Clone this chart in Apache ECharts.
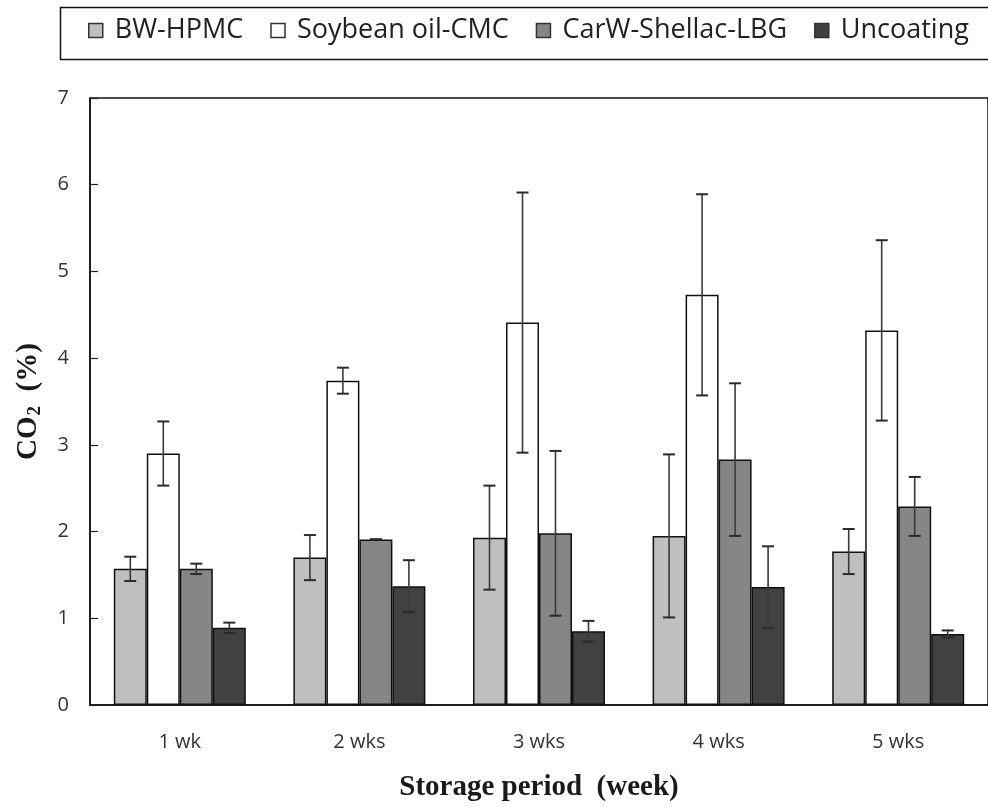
<!DOCTYPE html>
<html>
<head>
<meta charset="utf-8">
<script src="https://cdn.jsdelivr.net/npm/echarts@6/dist/echarts.min.js"></script>
<style>
  html, body { margin: 0; padding: 0; background: #ffffff; }
  #chart { width: 988px; height: 807px; }
</style>
</head>
<body>
<div id="chart"></div>
<script>
// Storage weeks on the category axis
const weeks = ['1 wk', '2 wks', '3 wks', '4 wks', '5 wks'];
const seriesNames = ['BW-HPMC', 'Soybean oil-CMC', 'CarW-Shellac-LBG', 'Uncoating'];
const yTicks = [0, 1, 2, 3, 4, 5, 6, 7];

// Mean CO2 (%) per coating and its standard deviation
const bwHpmc = [1.57, 1.70, 1.93, 1.95, 1.77];
const bwHpmcSd = [0.14, 0.26, 0.60, 0.94, 0.26];
const soybeanCmc = [2.90, 3.74, 4.41, 4.73, 4.32];
const soybeanCmcSd = [0.37, 0.15, 1.50, 1.16, 1.04];
const carwShellac = [1.57, 1.91, 1.98, 2.83, 2.29];
const carwShellacSd = [0.06, 0.00, 0.95, 0.88, 0.34];
const uncoating = [0.89, 1.37, 0.85, 1.36, 0.82];
const uncoatingSd = [0.06, 0.30, 0.12, 0.47, 0.04];

const means = [bwHpmc, soybeanCmc, carwShellac, uncoating];
const sds = [bwHpmcSd, soybeanCmcSd, carwShellacSd, uncoatingSd];
const fills = ['#bfbfbf', '#ffffff', '#868686', '#414141'];

const BAR_W = 33;
const CAP_HALF = 6;

const barSeries = means.map((vals, i) => ({
  name: seriesNames[i],
  type: 'bar',
  data: vals,
  barWidth: BAR_W,
  barGap: '0%',
  itemStyle: { color: fills[i], borderColor: '#111', borderWidth: 1.5 }
}));

// Whiskers drawn at the centre of each bar of the group
const errorSeries = means.map((vals, i) => ({
  type: 'custom',
  data: vals.map((m, k) => [k, m - sds[i][k], m + sds[i][k]]),
  z: 5,
  silent: true,
  renderItem(params, api) {
    const cat = api.value(0);
    const lo = api.coord([cat, api.value(1)]);
    const hi = api.coord([cat, api.value(2)]);
    const x = lo[0] + (i - 1.5) * BAR_W;
    const style = { stroke: '#2a2a2a', lineWidth: 2 };
    return {
      type: 'group',
      children: [
        { type: 'line', shape: { x1: x, y1: lo[1], x2: x, y2: hi[1] }, style: { stroke: '#3a3a3a', lineWidth: 1.6 } },
        { type: 'line', shape: { x1: x - CAP_HALF, y1: hi[1], x2: x + CAP_HALF, y2: hi[1] }, style },
        { type: 'line', shape: { x1: x - CAP_HALF, y1: lo[1], x2: x + CAP_HALF, y2: lo[1] }, style }
      ]
    };
  }
}));

const titleFont = { fontFamily: 'Liberation Serif', fontWeight: 'bold', color: '#1a1a1a' };

const chart = echarts.init(document.getElementById('chart'), null, { renderer: 'canvas' });
chart.setOption({
  animation: false,
  backgroundColor: '#ffffff',
  // Frame around the legend, running off the right edge
  graphic: [{
    type: 'rect',
    left: 58,
    top: 5,
    shape: { width: 1000, height: 52 },
    style: { fill: 'none', stroke: '#111', lineWidth: 1.5 },
    silent: true
  }],
  legend: {
    data: seriesNames,
    left: 88,
    top: 17,
    width: 960,
    icon: 'rect',
    itemWidth: 14,
    itemHeight: 14,
    itemGap: 27,
    padding: 0,
    itemStyle: { borderColor: '#333', borderWidth: 1.5 },
    textStyle: { fontFamily: 'Open Sans', fontSize: 27, color: '#222', padding: [0, 0, 0, 7] }
  },
  grid: {
    left: 90,
    top: 98,
    width: 907,
    height: 607,
    show: true,
    borderColor: '#111',
    borderWidth: 1.5,
    backgroundColor: 'transparent'
  },
  xAxis: {
    type: 'category',
    data: weeks,
    axisLine: { lineStyle: { color: '#111', width: 1.5 } },
    axisTick: { show: false },
    axisLabel: { fontFamily: 'Open Sans', fontSize: 20, color: '#333', margin: 27 },
    name: 'Storage period  (week)',
    nameLocation: 'middle',
    nameGap: 68,
    nameTextStyle: Object.assign({ fontSize: 29 }, titleFont)
  },
  yAxis: {
    type: 'value',
    min: yTicks[0],
    max: yTicks[yTicks.length - 1],
    interval: 1,
    axisLine: { show: true, lineStyle: { color: '#111', width: 1.5 } },
    axisTick: { show: true, inside: true, length: 8, lineStyle: { color: '#222', width: 1.2 } },
    splitLine: { show: false },
    axisLabel: { fontFamily: 'Open Sans', fontSize: 20, color: '#333', margin: 21 },
    name: '{a|CO}{b|2}{a|  (%)}',
    nameLocation: 'middle',
    nameRotate: 90,
    nameGap: 45,
    nameTextStyle: {
      rich: {
        a: Object.assign({ fontSize: 29 }, titleFont),
        b: Object.assign({ fontSize: 19, padding: [14, 0, 0, 1] }, titleFont)
      }
    }
  },
  series: barSeries.concat(errorSeries)
});
</script>
</body>
</html>
